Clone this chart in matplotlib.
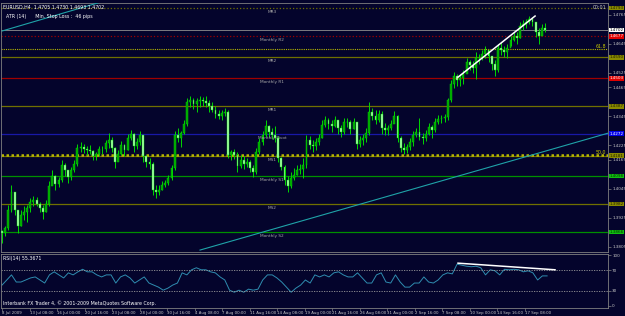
import numpy as np
import matplotlib.pyplot as plt

# EURUSD H4 - price path (grouped bars)
highs = [1.3874, 1.3891, 1.3977, 1.4060, 1.4015, 1.3924, 1.3957, 1.3973, 1.3977, 1.4006,
         1.4015, 1.4010, 1.3990, 1.3977, 1.3998, 1.4077, 1.4122, 1.4101, 1.4093, 1.4164,
         1.4151, 1.4122, 1.4135, 1.4164, 1.4230, 1.4238, 1.4230, 1.4222, 1.4226, 1.4205,
         1.4197, 1.4222, 1.4222, 1.4246, 1.4275, 1.4259, 1.4217, 1.4205, 1.4242, 1.4230,
         1.4271, 1.4288, 1.4275, 1.4255, 1.4284, 1.4267, 1.4184, 1.4172, 1.4155, 1.4060,
         1.4060, 1.4077, 1.4081, 1.4101, 1.4143, 1.4284, 1.4296, 1.4284, 1.4329, 1.4420,
         1.4429, 1.4420, 1.4420, 1.4429, 1.4424, 1.4429, 1.4412, 1.4404, 1.4387, 1.4371,
         1.4371, 1.4379, 1.4371, 1.4205, 1.4209, 1.4197, 1.4184, 1.4180, 1.4172, 1.4164,
         1.4143, 1.4213, 1.4255, 1.4284, 1.4329, 1.4308, 1.4296, 1.4304, 1.4263, 1.4176,
         1.4143, 1.4097, 1.4114, 1.4131, 1.4143, 1.4147, 1.4172, 1.4267, 1.4263, 1.4246,
         1.4255, 1.4271, 1.4329, 1.4346, 1.4337, 1.4329, 1.4346, 1.4329, 1.4308, 1.4337,
         1.4337, 1.4329, 1.4337, 1.4296, 1.4263, 1.4271, 1.4296, 1.4404, 1.4379, 1.4371,
         1.4371, 1.4366, 1.4317, 1.4308, 1.4329, 1.4366, 1.4350, 1.4263, 1.4234, 1.4230,
         1.4255, 1.4284, 1.4296, 1.4337, 1.4275, 1.4288, 1.4317, 1.4308, 1.4337, 1.4350,
         1.4350, 1.4354, 1.4420, 1.4495, 1.4528, 1.4520, 1.4520, 1.4536, 1.4586, 1.4578,
         1.4573, 1.4611, 1.4602, 1.4619, 1.4636, 1.4619, 1.4594, 1.4578, 1.4644, 1.4652,
         1.4636, 1.4644, 1.4677, 1.4694, 1.4694, 1.4735, 1.4743, 1.4747, 1.4760, 1.4756,
         1.4735, 1.4710, 1.4727, 1.4730]
lows = [1.3820, 1.3849, 1.3874, 1.3949, 1.3936, 1.3862, 1.3891, 1.3915, 1.3907, 1.3949,
        1.3973, 1.3973, 1.3949, 1.3919, 1.3949, 1.3973, 1.4064, 1.4039, 1.4052, 1.4073,
        1.4097, 1.4068, 1.4081, 1.4114, 1.4139, 1.4197, 1.4193, 1.4184, 1.4188, 1.4164,
        1.4164, 1.4180, 1.4188, 1.4197, 1.4213, 1.4197, 1.4131, 1.4164, 1.4184, 1.4180,
        1.4205, 1.4246, 1.4197, 1.4209, 1.4226, 1.4155, 1.4135, 1.4126, 1.4019, 1.4006,
        1.4019, 1.4039, 1.4052, 1.4060, 1.4081, 1.4122, 1.4238, 1.4217, 1.4271, 1.4304,
        1.4383, 1.4375, 1.4362, 1.4383, 1.4387, 1.4383, 1.4362, 1.4362, 1.4337, 1.4333,
        1.4329, 1.4346, 1.4172, 1.4164, 1.4168, 1.4114, 1.4131, 1.4126, 1.4135, 1.4114,
        1.4093, 1.4106, 1.4188, 1.4226, 1.4259, 1.4259, 1.4251, 1.4238, 1.4155, 1.4122,
        1.4060, 1.4031, 1.4048, 1.4081, 1.4101, 1.4106, 1.4089, 1.4131, 1.4209, 1.4197,
        1.4205, 1.4226, 1.4255, 1.4300, 1.4292, 1.4279, 1.4300, 1.4271, 1.4259, 1.4271,
        1.4300, 1.4271, 1.4292, 1.4209, 1.4217, 1.4226, 1.4238, 1.4267, 1.4329, 1.4313,
        1.4321, 1.4271, 1.4267, 1.4267, 1.4288, 1.4321, 1.4238, 1.4197, 1.4188, 1.4193,
        1.4205, 1.4222, 1.4259, 1.4246, 1.4230, 1.4242, 1.4267, 1.4255, 1.4279, 1.4313,
        1.4317, 1.4321, 1.4329, 1.4404, 1.4462, 1.4470, 1.4470, 1.4478, 1.4528, 1.4536,
        1.4524, 1.4499, 1.4561, 1.4578, 1.4586, 1.4569, 1.4536, 1.4511, 1.4528, 1.4598,
        1.4590, 1.4586, 1.4636, 1.4656, 1.4644, 1.4669, 1.4702, 1.4710, 1.4727, 1.4718,
        1.4673, 1.4644, 1.4689, 1.4693]
closes = [1.3862, 1.3882, 1.3957, 1.4031, 1.3957, 1.3891, 1.3936, 1.3949, 1.3965, 1.3990,
          1.3998, 1.3982, 1.3965, 1.3949, 1.3982, 1.4056, 1.4097, 1.4064, 1.4081, 1.4143,
          1.4122, 1.4093, 1.4122, 1.4147, 1.4213, 1.4217, 1.4209, 1.4205, 1.4201, 1.4180,
          1.4188, 1.4209, 1.4209, 1.4234, 1.4246, 1.4213, 1.4155, 1.4188, 1.4226, 1.4205,
          1.4255, 1.4271, 1.4222, 1.4238, 1.4267, 1.4180, 1.4155, 1.4147, 1.4039, 1.4031,
          1.4039, 1.4060, 1.4068, 1.4089, 1.4131, 1.4267, 1.4255, 1.4275, 1.4313, 1.4404,
          1.4412, 1.4395, 1.4408, 1.4412, 1.4408, 1.4400, 1.4387, 1.4371, 1.4354, 1.4346,
          1.4358, 1.4362, 1.4184, 1.4197, 1.4184, 1.4139, 1.4164, 1.4147, 1.4155, 1.4131,
          1.4114, 1.4197, 1.4238, 1.4267, 1.4304, 1.4279, 1.4267, 1.4255, 1.4172, 1.4135,
          1.4081, 1.4056, 1.4089, 1.4101, 1.4122, 1.4126, 1.4143, 1.4246, 1.4226, 1.4222,
          1.4238, 1.4255, 1.4308, 1.4329, 1.4313, 1.4304, 1.4329, 1.4296, 1.4279, 1.4321,
          1.4321, 1.4292, 1.4321, 1.4230, 1.4246, 1.4255, 1.4275, 1.4362, 1.4346, 1.4329,
          1.4354, 1.4296, 1.4288, 1.4296, 1.4313, 1.4346, 1.4255, 1.4213, 1.4205, 1.4217,
          1.4238, 1.4267, 1.4279, 1.4259, 1.4255, 1.4271, 1.4300, 1.4288, 1.4321, 1.4333,
          1.4337, 1.4342, 1.4412, 1.4478, 1.4511, 1.4495, 1.4503, 1.4520, 1.4569, 1.4557,
          1.4544, 1.4586, 1.4586, 1.4602, 1.4619, 1.4594, 1.4561, 1.4536, 1.4627, 1.4619,
          1.4611, 1.4627, 1.4660, 1.4677, 1.4669, 1.4718, 1.4727, 1.4735, 1.4747, 1.4735,
          1.4694, 1.4677, 1.4710, 1.4702]
first_open = 1.3870

rsi = [41, 51, 61, 47, 47, 51, 55, 57, 51, 45, 61, 67, 61, 55, 65, 61, 67, 72, 67, 67,
       61, 57, 61, 61, 45, 57, 61, 55, 45, 51, 57, 45, 41, 37, 31, 35, 41, 45, 65, 61,
       71, 75, 71, 71, 67, 65, 57, 51, 31, 27, 31, 27, 33, 31, 33, 51, 61, 61, 55, 47,
       37, 27, 35, 41, 51, 45, 61, 57, 61, 57, 65, 67, 61, 57, 57, 65, 55, 45, 45, 61,
       65, 47, 45, 61, 47, 37, 37, 45, 45, 57, 47, 45, 51, 61, 65, 63, 82, 80, 78, 77,
       78, 75, 61, 71, 69, 61, 72, 71, 72, 71, 67, 69, 65, 51, 59, 59]

# monthly pivots
level_names = ['MR3', 'Monthly R2', 'MR2', 'Monthly R1', 'MR1', 'Monthly Pivot',
               'MS1', 'Monthly S1', 'MS2', 'Monthly S2']
level_prices = [1.4793, 1.4677, 1.4590, 1.4503, 1.4387, 1.4272, 1.4181, 1.4098, 1.3982, 1.3866]
level_kind = ['mid', 'R', 'mid', 'R', 'mid', 'P', 'mid', 'S', 'mid', 'S']

fib_labels = ['61.8', '50.0']
fib_prices = [1.4623, 1.4184]

bid = 1.4702

# time axis: one label every 16 H4 bars
time_labels = ['8 Jul 2009', '13 Jul 08:00', '16 Jul 00:00', '20 Jul 16:00', '23 Jul 08:00',
               '28 Jul 00:00', '30 Jul 16:00', '4 Aug 08:00', '7 Aug 00:00', '11 Aug 16:00',
               '14 Aug 08:00', '19 Aug 00:00', '21 Aug 16:00', '26 Aug 08:00', '31 Aug 00:00',
               '2 Sep 16:00', '7 Sep 08:00', '10 Sep 00:00', '14 Sep 16:00', '17 Sep 08:00']
# visible price scale labels (the others are hidden by the level boxes)
price_ticks = [1.3805, 1.3925, 1.4045, 1.4165, 1.4225, 1.4345, 1.4465, 1.4525, 1.4645, 1.4765]

BG = '#04042c'
FRAME = '#808080'
TXT = '#c8c8c8'
plt.rcParams['font.family'] = ['DejaVu Sans']
FS = 3.4
FSR = 3.0

kind_color = {'mid': '#707000', 'R': '#a00000', 'P': '#1818a8', 'S': '#009000'}
box_color = {'mid': ('#8a8a00', '#202000'), 'R': ('#e00000', 'white'),
             'P': ('#0000e8', 'white'), 'S': ('#10c010', '#003000')}

fig = plt.figure(figsize=(6.25, 3.16), dpi=100, facecolor=BG)
ax = fig.add_axes([1 / 625, 64 / 316, 607 / 625, 249 / 316], facecolor=BG)
ax2 = fig.add_axes([1 / 625, 8 / 316, 607 / 625, 54 / 316], facecolor=BG, sharex=ax)

n = len(closes)
closes = np.array(closes)
highs = np.array(highs)
lows = np.array(lows)
opens = np.r_[first_open, closes[:-1]]
step = 315.7 / (n - 1)
t = np.arange(n) * step

# candles
bull = closes >= opens
ax.vlines(t, lows, highs, color='#00d800', lw=0.7, zorder=3)
body_lo = np.minimum(opens, closes)
body_h = np.maximum(np.abs(closes - opens), 0.00012)
ax.bar(t, body_h, bottom=body_lo, width=step * 0.6,
       color=np.where(bull, '#00a000', '#b0ffb0'), edgecolor='#00e000', lw=0.3, zorder=4)

# pivot levels
xr = ax.get_yaxis_transform()
for name, p, k in zip(level_names, level_prices, level_kind):
    ls = ':' if name in ('MR3', 'Monthly R2') else '-'
    ax.axhline(p, color=kind_color[k], lw=0.9, ls=ls, zorder=2)
    ax.annotate(name, (157, p), xytext=(0, -1.2), textcoords='offset points',
                ha='center', va='top', fontsize=FS - 0.3, color='#a8a8a8', zorder=5)
    fc, tc = box_color[k]
    ax.text(1.003, p, f'{p:.4f}', transform=xr, ha='left', va='center', fontsize=FSR,
            color=tc, zorder=10, clip_on=False,
            bbox=dict(boxstyle='square,pad=0.1', fc=fc, ec='none'))

# fibo levels
for lab, p, lw in zip(fib_labels, fib_prices, [0.8, 1.8]):
    ax.axhline(p, color='#b8b800', lw=lw, ls=(0, (1, 1)), zorder=2)
    ax.text(0.997, p, lab, transform=xr, ha='right', va='bottom', fontsize=FS,
            color='#c8c800', zorder=5)

# bid line
ax.axhline(bid, color='#909090', lw=0.6, zorder=2)
ax.text(1.003, bid, f'{bid:.4f}', transform=xr, ha='left', va='center', fontsize=FSR,
        color='black', zorder=11, clip_on=False,
        bbox=dict(boxstyle='square,pad=0.1', fc='white', ec='none'))

# trend lines
ax.plot([115.1, 352.3], [1.3791, 1.4275], color='#1fa3a8', lw=0.8, zorder=3)
ax.plot([0, 70], [1.4698, 1.4844], color='#1fa3a8', lw=0.8, zorder=3)
ax.plot([265.1, 309.9], [1.4507, 1.4760], color='white', lw=1.1, zorder=6)

ax.set_xlim(-0.6, 352.3)
ax.set_ylim(1.3783, 1.4814)
ax.yaxis.tick_right()
ax.set_yticks(price_ticks)
ax.set_yticklabels([f'{v:.4f}' for v in price_ticks])
ax.tick_params(axis='y', colors=FRAME, labelcolor=TXT, labelsize=FSR, length=2, width=0.5, pad=1)
ax.tick_params(axis='x', bottom=False, labelbottom=False)
for s in ax.spines.values():
    s.set_color(FRAME)
    s.set_linewidth(0.6)

ax.text(0.004, 0.992, 'EURUSD,H4  1.4705 1.4730 1.4693 1.4702', transform=ax.transAxes,
        ha='left', va='top', fontsize=FS, color='white', zorder=8)
ax.text(0.008, 0.955, 'ATR (14)      Min. Stop Loss :  46 pips', transform=ax.transAxes,
        ha='left', va='top', fontsize=FS, color='white', zorder=8)
ax.text(0.997, 0.992, '00:01', transform=ax.transAxes, ha='right', va='top',
        fontsize=FS, color=TXT, zorder=8)

# RSI window
tr = np.linspace(0, 316.9, len(rsi))
ax2.plot(tr, rsi, color='#2f8db0', lw=0.7)
for lv in (70, 30):
    ax2.axhline(lv, color='#9a9a9a', lw=0.6, ls=(0, (1.5, 1.5)))
ax2.plot([265.1, 321.5], [84, 71], color='white', lw=1.1)
ax2.set_ylim(-4, 102)
ax2.yaxis.tick_right()
ax2.set_yticks([0, 30, 70, 100])
ax2.set_yticklabels(['0', '30', '70', '100'])
ax2.tick_params(axis='y', colors=FRAME, labelcolor=TXT, labelsize=FSR, length=2, width=0.5, pad=1)
ax2.set_xticks(np.arange(len(time_labels)) * 16)
ax2.set_xticklabels(time_labels)
ax2.tick_params(axis='x', colors=FRAME, labelcolor=TXT, labelsize=2.8, length=2, width=0.5, pad=0.5)
for lab in ax2.get_xticklabels():
    lab.set_horizontalalignment('left')
for s in ax2.spines.values():
    s.set_color(FRAME)
    s.set_linewidth(0.6)
ax2.text(0.004, 0.96, 'RSI(14) 55.3671', transform=ax2.transAxes, ha='left', va='top',
         fontsize=FS, color='white')
ax2.text(0.004, 0.04, 'Interbank FX Trader 4, \u00a9 2001-2009 MetaQuotes Software Corp.',
         transform=ax2.transAxes, ha='left', va='bottom', fontsize=FS, color='white')

fig.savefig('out.png', dpi=100, facecolor=BG)
